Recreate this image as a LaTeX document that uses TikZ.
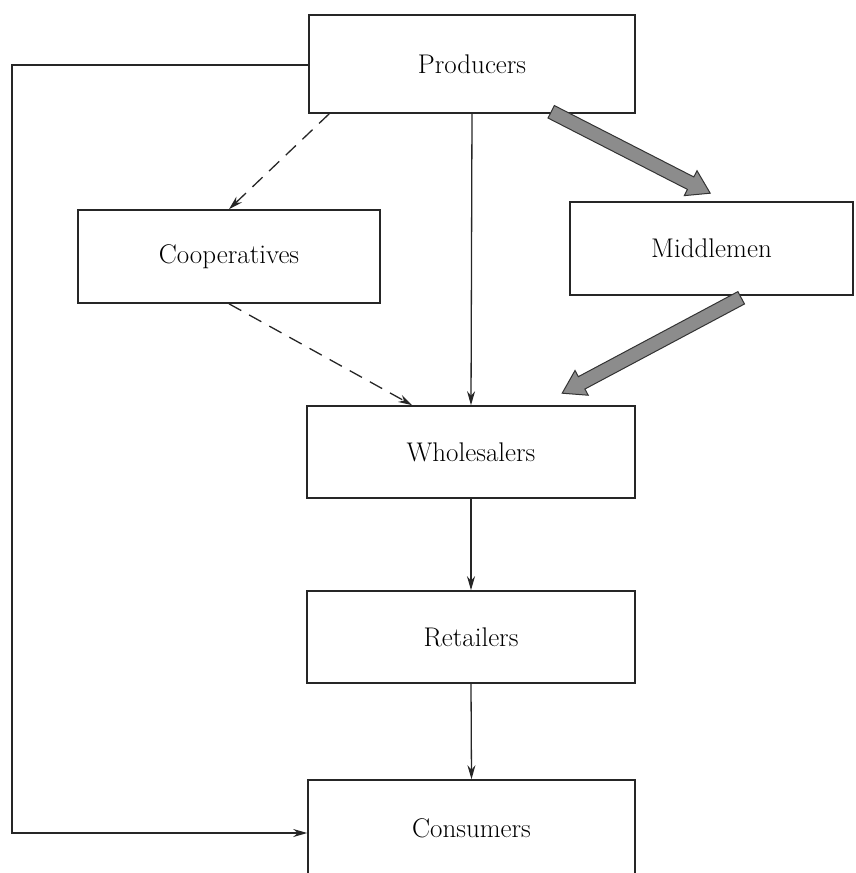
\documentclass[tikz,border=0pt]{standalone}
\usepackage{fontspec}
\usetikzlibrary{arrows.meta,calc}

% broad shaded arrow between two points: shaft plus triangular head
\newcommand{\fatarrow}[2]{%
  \path (#1) coordinate (fa-s) (#2) coordinate (fa-t);
  \path ($(fa-t)!22pt!(fa-s)$) coordinate (fa-b);
  \draw[bigarrow]
    ($(fa-s)!7pt!90:(fa-t)$) -- ($(fa-b)!7pt!-90:(fa-s)$)
    -- ($(fa-b)!14pt!-90:(fa-s)$) -- (fa-t)
    -- ($(fa-b)!14pt!90:(fa-s)$) -- ($(fa-b)!7pt!90:(fa-s)$)
    -- ($(fa-s)!7pt!-90:(fa-t)$) -- cycle;}

\begin{document}
\begin{tikzpicture}[x=1pt,y=-1pt,
  box/.style={draw=black!85, line width=1.6pt, rectangle, inner sep=0pt,
              font=\fontsize{27}{32}\selectfont},
  flow/.style={draw=black!85, line width=1.3pt, -{Stealth[length=14pt,width=8pt]}},
  dflow/.style={flow, dash pattern=on 14pt off 9pt},
  bigarrow/.style={fill=black!45, draw=black!80, line width=1pt, line join=miter}]
\useasboundingbox (0,0) rectangle (855,873);

% boxes
\node[box, minimum width=326pt, minimum height=98pt] (prod)  at (472,64)    {Producers};
\node[box, minimum width=302pt, minimum height=93pt] (coop)  at (229,256.5) {Cooperatives};
\node[box, minimum width=283pt, minimum height=93pt] (mid)   at (711.5,248.5) {Middlemen};
\node[box, minimum width=328pt, minimum height=92pt] (whole) at (471,452)   {Wholesalers};
\node[box, minimum width=328pt, minimum height=92pt] (ret)   at (471,637)   {Retailers};
\node[box, minimum width=327pt, minimum height=96pt] (cons)  at (471.5,828) {Consumers};

% dashed route through the cooperatives
\draw[dflow] ($(prod.south west)+(21,0)$) -- (coop.north);
\draw[dflow] (coop.south) -- ($(whole.north west)+(106,0)$);

% direct route to the wholesalers
\draw[flow] (prod.south) -- (whole.north);

% main route through the middlemen
\fatarrow{$(prod.south west)+(243,-2)$}{$(mid.north west)+(141,-8)$}
\fatarrow{$(mid.south west)+(172,2)$}{$(whole.north west)+(256,-12)$}

% down the chain
\draw[flow] (whole.south) -- (ret.north);
\draw[flow] (ret.south) -- (cons.north);

% direct sales to consumers
\coordinate (lt) at (12,65);
\coordinate (lb) at (12,833);
\draw[flow] (prod.west |- lt) -- (lt) -- (lb) -- (lb -| cons.west);
\end{tikzpicture}
\end{document}
